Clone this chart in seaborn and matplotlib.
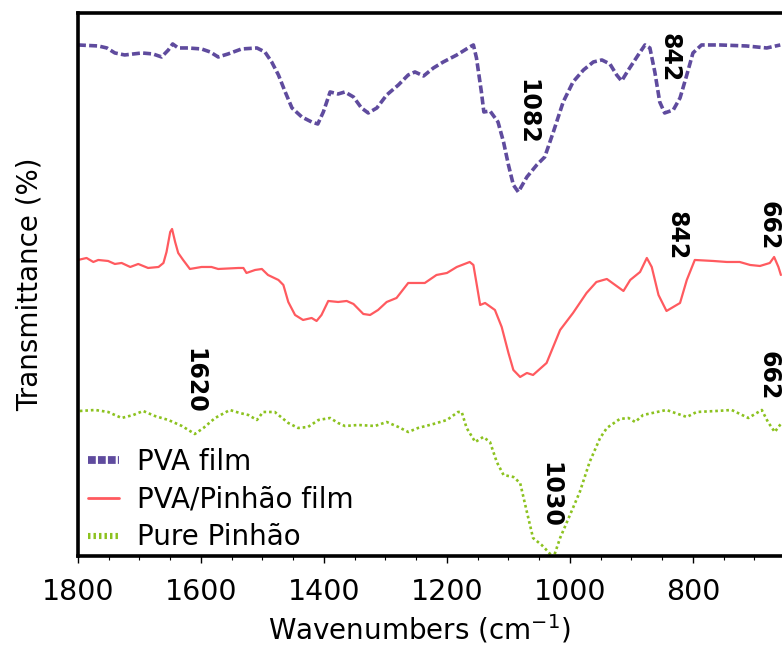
import numpy as np
import pandas as pd
import matplotlib
matplotlib.use("Agg")
import matplotlib.pyplot as plt
import seaborn as sns

# FTIR spectra, values (arbitrary transmittance units, offset)
pva_wn = [1800, 1767, 1753, 1740, 1724, 1710, 1696, 1678, 1664, 1653, 1646, 1637,
          1621, 1599, 1585, 1572, 1556, 1534, 1509, 1496, 1485, 1474, 1463, 1452,
          1436, 1420, 1410, 1401, 1390, 1377, 1366, 1352, 1339, 1328, 1314, 1298,
          1279, 1263, 1252, 1238, 1222, 1206, 1184, 1163, 1157, 1152, 1144, 1140,
          1130, 1117, 1108, 1100, 1092, 1084, 1070, 1054, 1041, 1027, 1011, 995,
          978, 962, 948, 935, 924, 916, 905, 889, 878, 870, 862, 854, 846, 832,
          821, 810, 800, 786, 756, 713, 680, 658]
pva_t = [511, 510, 508, 503, 501, 502, 503, 502, 499, 506, 512, 508,
         508, 507, 504, 499, 502, 507, 508, 504, 494, 481, 464, 448,
         439, 434, 432, 444, 464, 462, 464, 459, 448, 443, 448, 461,
         471, 481, 484, 480, 488, 494, 501, 509, 511, 498, 464, 444,
         445, 434, 414, 391, 371, 364, 379, 391, 399, 424, 454, 474,
         486, 494, 496, 492, 481, 475, 486, 501, 511, 508, 484, 454, 443, 446,
         458, 481, 503, 511, 511, 510, 508, 511]

blend_wn = [1800, 1786, 1775, 1767, 1751, 1740, 1729, 1715, 1702, 1686, 1669, 1661,
            1656, 1650, 1647, 1642, 1637, 1629, 1618, 1599, 1583, 1572, 1539, 1531,
            1526, 1512, 1501, 1491, 1474, 1466, 1458, 1447, 1434, 1420, 1412, 1404,
            1393, 1377, 1363, 1352, 1336, 1325, 1312, 1298, 1282, 1263, 1252, 1236,
            1217, 1200, 1184, 1163, 1157, 1152, 1146, 1138, 1122, 1111, 1100, 1092,
            1081, 1070, 1060, 1038, 1016, 995, 973, 957, 940, 913, 902, 886, 875,
            867, 856, 843, 821, 810, 797, 767, 745, 724, 707, 691, 675, 668, 661, 657]
blend_t = [296, 298, 294, 296, 295, 292, 293, 289, 292, 288, 289, 293,
           304, 324, 327, 314, 303, 296, 287, 289, 289, 287, 288, 288,
           283, 286, 287, 281, 276, 271, 254, 241, 236, 238, 235, 241,
           255, 254, 255, 252, 242, 241, 246, 254, 258, 273, 273, 273,
           281, 283, 289, 294, 291, 273, 251, 253, 246, 229, 203, 186,
           179, 183, 181, 193, 226, 243, 263, 274, 277, 265, 276, 284, 298,
           289, 261, 245, 253, 276, 296, 295, 294, 294, 291, 290, 293, 299, 289, 281]

pinhao_wn = [1797, 1772, 1751, 1729, 1710, 1694, 1675, 1653, 1631, 1610, 1596, 1577,
             1553, 1537, 1523, 1509, 1499, 1480, 1458, 1442, 1426, 1409, 1390, 1377,
             1366, 1344, 1317, 1298, 1279, 1263, 1247, 1222, 1200, 1182, 1176, 1168,
             1154, 1141, 1130, 1119, 1108, 1092, 1081, 1070, 1060, 1046, 1035, 1027,
             1016, 1000, 984, 968, 951, 940, 919, 905, 894, 881, 843, 810, 794, 762,
             737, 710, 688, 678, 667, 656]
pinhao_t = [145, 146, 144, 138, 141, 145, 140, 136, 130, 122, 128, 138,
            146, 143, 141, 136, 144, 144, 133, 128, 129, 136, 138, 133,
            130, 131, 130, 134, 129, 124, 128, 132, 136, 144, 144, 128,
            114, 119, 114, 94, 81, 79, 73, 44, 18, 11, 4, -2,
            18, 41, 64, 94, 118, 128, 137, 138, 134, 141, 146, 139, 144, 145,
            146, 138, 146, 134, 124, 133]

series_names = ["PVA film", "PVA/Pinhão film", "Pure Pinhão"]
colors = ["#5f4b9e", "#ff5a5f", "#8cc21f"]

# peak labels: text, wavenumber, height
peak_text = ["1082", "842", "842", "662", "1620", "1030", "662"]
peak_wn = [1069, 838, 826, 677, 1610, 1032, 677]
peak_t = [444, 498, 320, 330, 175, 61, 180]

sns.set_style("ticks")
plt.rcParams["font.family"] = ["DejaVu Sans"]

fig = plt.figure(figsize=(7.82, 6.45), dpi=100)
ax = fig.add_axes([0.0997, 0.138, 0.9437, 0.8419])

sns.lineplot(x=pva_wn, y=pva_t, ax=ax, color=colors[0], linewidth=2.6,
             linestyle=(0, (2.2, 0.9)), label=series_names[0], sort=False, errorbar=None)
sns.lineplot(x=blend_wn, y=blend_t, ax=ax, color=colors[1], linewidth=1.6,
             label=series_names[1], sort=False, errorbar=None)
sns.lineplot(x=pinhao_wn, y=pinhao_t, ax=ax, color=colors[2], linewidth=1.9,
             linestyle=(0, (1, 1.1)), label=series_names[2], sort=False, errorbar=None)

for txt, wn, t in zip(peak_text, peak_wn, peak_t):
    ax.text(wn, t, txt, rotation=270, ha="center", va="center",
            fontsize=17, fontweight="bold", color="black")

ax.set_xlim(1800, 600)
ax.set_ylim(0, 543)
ax.set_xticks([1800, 1600, 1400, 1200, 1000, 800])
ax.set_xticks(np.arange(1800, 599, -50), minor=True)
ax.set_yticks([])
ax.tick_params(axis="x", which="major", length=5, width=1, pad=11,
               labelsize=20.5, colors="black", direction="out")
ax.tick_params(axis="x", which="minor", length=3, width=0.8, colors="black")
for s in ax.spines.values():
    s.set_color("black")
    s.set_linewidth(2.6)

ax.set_xlabel(r"Wavenumbers (cm$^{-1}$)", fontsize=20, color="black")
ax.xaxis.set_label_coords(0.463, -0.105)
ax.set_ylabel("Transmittance (%)", fontsize=20, color="black", labelpad=25)

leg = ax.legend(loc="lower left", bbox_to_anchor=(0.012, 0.006), frameon=False,
                fontsize=20, handlelength=1.1, handletextpad=0.65, labelspacing=0.35,
                borderpad=0.05, borderaxespad=0.0)
for t in leg.get_texts():
    t.set_color("black")
hl = leg.get_lines()
hl[0].set_linewidth(5.6)
hl[0].set_dashes((1.0, 0.28))
hl[1].set_linewidth(2.0)
hl[2].set_linewidth(4.4)
hl[2].set_dashes((0.4, 0.5))

plt.savefig("out.png", dpi=100)
plt.close()
